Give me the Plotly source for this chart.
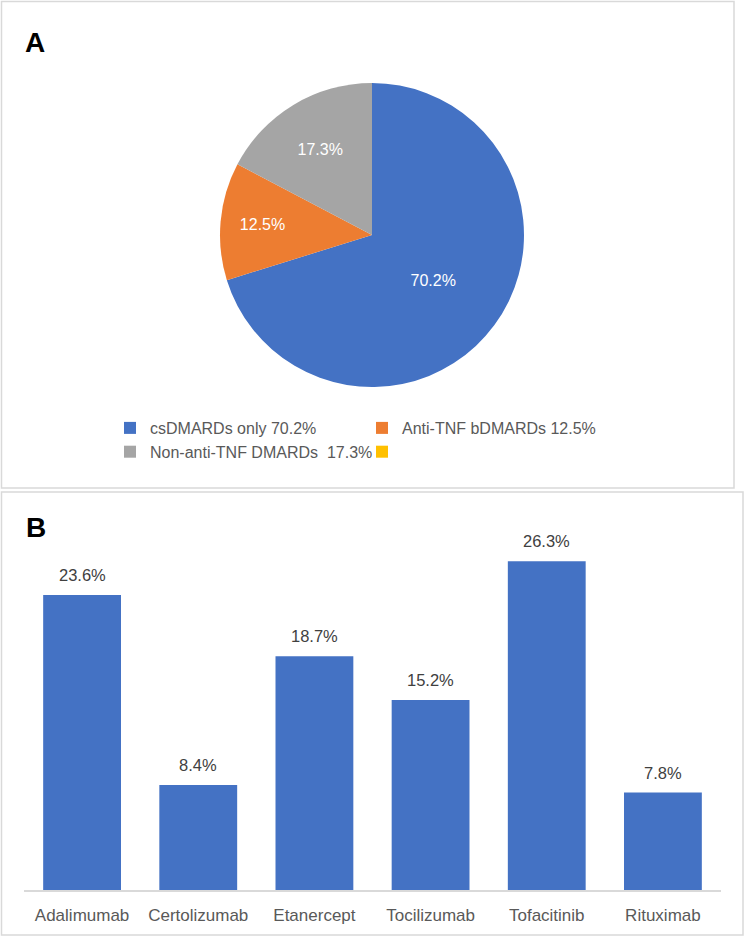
import plotly.graph_objects as go

# ---- Data: panel A (pie) ----
pie_labels = ["csDMARDs only 70.2%", "Anti-TNF bDMARDs 12.5%", "Non-anti-TNF DMARDs  17.3%", " "]
pie_values = [70.2, 12.5, 17.3, 0]
pie_text = ["70.2%", "12.5%", "17.3%", ""]
pie_colors = ["#4472C4", "#ED7D31", "#A5A5A5", "#FFC000"]

# ---- Data: panel B (bars) ----
drugs = ["Adalimumab", "Certolizumab", "Etanercept", "Tocilizumab", "Tofacitinib", "Rituximab"]
drug_pct = [23.6, 8.4, 18.7, 15.2, 26.3, 7.8]

W, H = 745, 939
FONT = "Liberation Sans, Arial, sans-serif"

def px(x):
    return x / W

def py(y):
    return 1 - y / H

fig = go.Figure()

fig.add_trace(go.Pie(
    labels=pie_labels,
    values=pie_values,
    text=pie_text,
    texttemplate="%{text}",
    textposition="inside",
    insidetextorientation="horizontal",
    textfont=dict(color="white", size=16, family=FONT),
    marker=dict(colors=pie_colors, line=dict(width=0)),
    sort=False,
    direction="clockwise",
    rotation=0,
    domain=dict(x=[px(372 - 152), px(372 + 152)], y=[py(387), py(83)]),
    hoverinfo="label",
    showlegend=True,
))

fig.add_trace(go.Bar(
    x=drugs,
    y=drug_pct,
    marker=dict(color="#4472C4", line=dict(width=0)),
    showlegend=False,
    hoverinfo="x+y",
))

annotations = []
for d, v in zip(drugs, drug_pct):
    annotations.append(dict(
        x=d, y=v, xref="x", yref="y",
        text=f"{v:.1f}%", showarrow=False,
        yanchor="bottom", yshift=9,
        font=dict(size=16.5, color="#404040", family=FONT),
    ))

annotations += [
    dict(x=px(35), y=py(42), xref="paper", yref="paper", text="<b>A</b>",
         showarrow=False, xanchor="center", yanchor="middle",
         font=dict(size=28, color="black", family=FONT)),
    dict(x=px(36), y=py(527), xref="paper", yref="paper", text="<b>B</b>",
         showarrow=False, xanchor="center", yanchor="middle",
         font=dict(size=28, color="black", family=FONT)),
]

shapes = [
    dict(type="rect", xref="paper", yref="paper",
         x0=px(1.5), x1=px(734), y0=py(488), y1=py(1.5),
         line=dict(color="#D9D9D9", width=1.5)),
    dict(type="rect", xref="paper", yref="paper",
         x0=px(1.5), x1=px(743), y0=py(935), y1=py(492),
         line=dict(color="#D9D9D9", width=1.5)),
]

fig.update_layout(
    width=W, height=H,
    margin=dict(l=0, r=0, t=0, b=0),
    paper_bgcolor="white",
    plot_bgcolor="white",
    font=dict(family=FONT),
    bargap=0.33,
    annotations=annotations,
    shapes=shapes,
    legend=dict(
        orientation="h",
        x=px(110), xanchor="left",
        y=py(440), yanchor="middle",
        entrywidth=207, entrywidthmode="pixels",
        font=dict(size=16, color="#595959", family=FONT),
        bgcolor="rgba(0,0,0,0)",
        itemclick=False, itemdoubleclick=False,
    ),
    xaxis=dict(
        domain=[px(24), px(721)],
        anchor="y",
        showline=True, linecolor="#D9D9D9", linewidth=1.5,
        ticks="outside", ticklen=9, tickcolor="rgba(0,0,0,0)",
        tickfont=dict(size=17, color="#595959", family=FONT),
        showgrid=False, zeroline=False, fixedrange=True,
    ),
    yaxis=dict(
        domain=[py(890), py(515)],
        range=[0, 30],
        visible=False, showgrid=False, zeroline=False, fixedrange=True,
    ),
)

fig.write_html(
    "out.html",
    config={"displayModeBar": False},
    post_script="document.body.style.margin='0';document.body.style.overflow='hidden';",
)
